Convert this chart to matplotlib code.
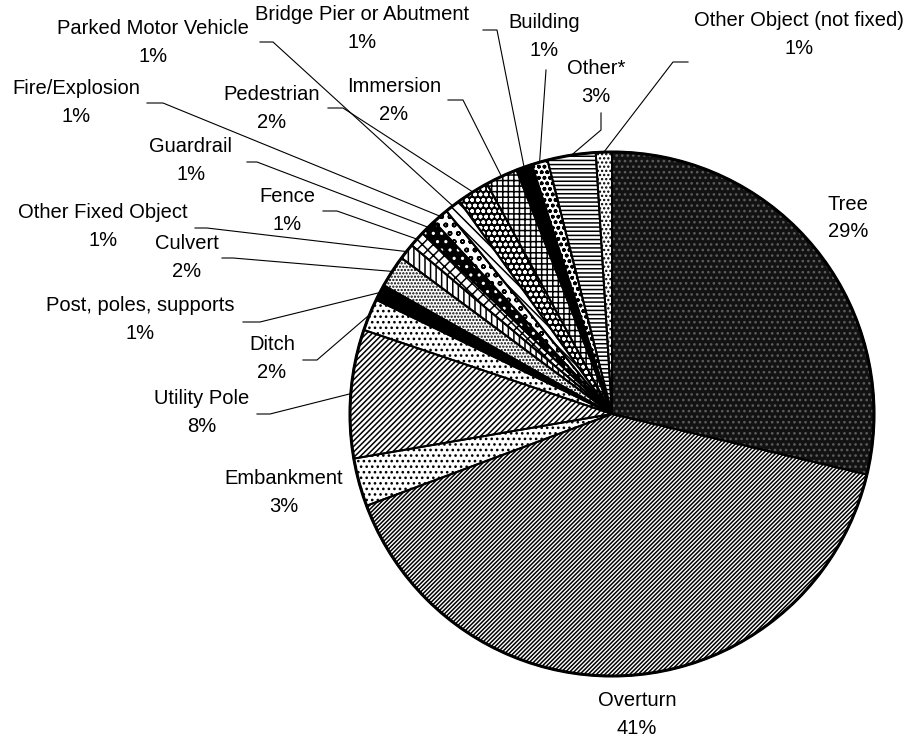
import matplotlib
matplotlib.use("Agg")
import numpy as np
import matplotlib.pyplot as plt

plt.rcParams['font.family'] = ['Liberation Sans', 'DejaVu Sans']
plt.rcParams['hatch.linewidth'] = 1.1

# slices, clockwise from 12 o'clock
categories = ["Tree", "Overturn", "Embankment", "Utility Pole", "Ditch",
              "Post, poles, supports", "Culvert", "Other Fixed Object", "Fence",
              "Guardrail", "Fire/Explosion", "Parked Motor Vehicle", "Pedestrian",
              "Immersion", "Bridge Pier or Abutment", "Building", "Other*",
              "Other Object (not fixed)"]
percents = [29, 41, 3, 8, 2, 1, 2, 1, 1, 1, 1, 1, 2, 2, 1, 1, 3, 1]

# fill style per slice: facecolor, hatch colour, hatch
styles = [("#121212", "#5c5c5c", "..."),   # Tree
          ("white", "black", "////////"),  # Overturn
          ("white", "black", "..."),       # Embankment
          ("white", "black", "//////"),    # Utility Pole
          ("white", "black", "..."),       # Ditch
          ("black", "black", None),        # Post
          ("white", "black", "....."),     # Culvert
          ("white", "black", "|||"),       # Other Fixed
          ("white", "black", "xxx"),       # Fence
          ("black", "white", ".."),        # Guardrail
          ("white", "black", "oo"),        # Fire
          ("white", "black", "\\\\\\"),    # Parked MV
          ("black", "white", "ooo"),       # Pedestrian
          ("white", "black", "+++"),       # Immersion
          ("black", "black", None),        # Bridge Pier
          ("white", "black", "ooo"),       # Building
          ("white", "black", "----"),      # Other*
          ("white", "black", "....")]      # Other Object

W, H = 920, 738
center_px = (612, 414)
radius = 262
line_gap = 14  # half distance between name line and percent line

# label centres (pixels, y down)
label_pos = [(848, 218), (637, 714), (284, 493), (202, 413), (272, 359),
             (140, 320), (187, 258), (103, 227), (287, 210), (191, 160),
             (76, 103), (153, 42), (272, 108), (394, 100), (362, 28),
             (544, 36), (596, 83), (799, 35)]

# leader bend points (pixels, y down); line ends on the slice edge
leaders = [[], [], [], [(257, 414), (270, 414)], [(303, 360), (317, 360)],
           [(243, 322), (260, 322)], [(222, 258), (233, 258)],
           [(195, 228), (207, 228)], [(323, 211), (337, 211)],
           [(247, 162), (257, 162)], [(147, 103), (163, 103)],
           [(260, 42), (273, 42)], [(328, 108), (343, 108)],
           [(448, 100), (463, 100)], [(483, 30), (497, 30)],
           [(546, 70)], [(601, 113), (601, 130)], [(688, 62), (673, 62)]]


def px(p):
    return (p[0], H - p[1])


fig = plt.figure(figsize=(W / 100, H / 100), dpi=100)
ax = fig.add_axes([0, 0, 1, 1])

c = px(center_px)
wedges, _ = ax.pie(percents, startangle=90, counterclock=False, center=c,
                   radius=radius, wedgeprops=dict(linewidth=0))
for w, (fc, hc, hatch) in zip(wedges, styles):
    w.set_facecolor(fc)
    w.set_edgecolor(hc)
    w.set_linewidth(0)
    if hatch:
        w.set_hatch(hatch)

# outlines
ax.pie(percents, startangle=90, counterclock=False, center=c, radius=radius,
       wedgeprops=dict(fill=False, edgecolor="black", linewidth=1.4))
ax.add_patch(plt.Circle(c, radius, fill=False, edgecolor="black", linewidth=2.2))

for i, w in enumerate(wedges):
    lx, ly = label_pos[i]
    ax.text(*px((lx, ly - line_gap)), categories[i], ha="center", va="center",
            fontsize=14.5, color="black")
    ax.text(*px((lx, ly + line_gap)), f"{percents[i]}%", ha="center",
            va="center", fontsize=14.5, color="black")
    if leaders[i]:
        mid = np.deg2rad((w.theta1 + w.theta2) / 2)
        end = (c[0] + radius * np.cos(mid), c[1] + radius * np.sin(mid))
        pts = [px(p) for p in leaders[i]] + [end]
        xs, ys = zip(*pts)
        ax.plot(xs, ys, color="black", linewidth=0.8)

ax.set_xlim(0, W)
ax.set_ylim(0, H)
ax.set_aspect("equal")
ax.axis("off")

fig.savefig("out.png", dpi=100, facecolor="white")
